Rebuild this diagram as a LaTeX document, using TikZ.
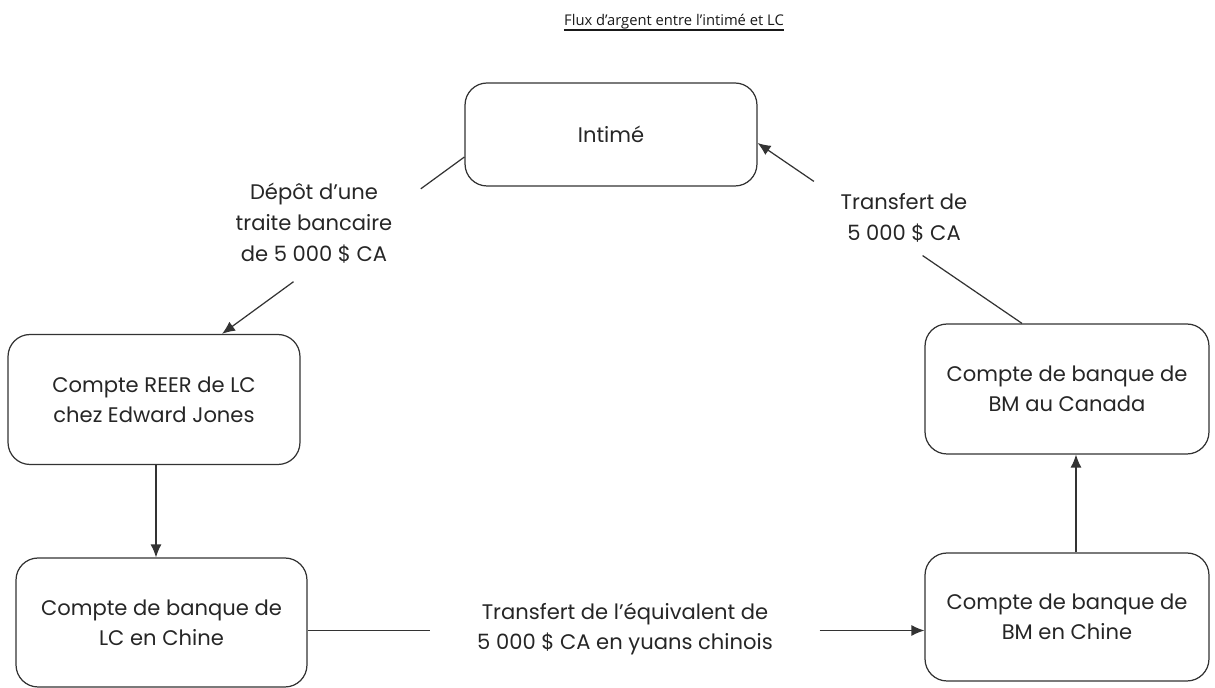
\documentclass[tikz,border=0pt]{standalone}
\usepackage{fontspec}
\setmainfont{Poppins}
\newfontfamily\titlefont{Open Sans}
\usetikzlibrary{arrows.meta, positioning}

\begin{document}
\begin{tikzpicture}[
  x=0.02cm, y=-0.02cm,
  box/.style={draw=black!80, line width=0.7pt, rounded corners=4.4mm, align=center,
    inner sep=0pt, text=black!85, font=\fontsize{12}{17}\selectfont},
  lbl/.style={align=center, text=black!85, font=\fontsize{12}{17.5}\selectfont},
  flow/.style={draw=black!80, line width=0.7pt},
  edge/.style={flow, -{Latex[length=2.6mm, width=2.2mm]}}
]
\useasboundingbox (0,0) rectangle (1215,688);

\node[anchor=base, inner sep=0pt, text=black!90, font=\titlefont\fontsize{8.4}{10}\selectfont] (title) at (674,26)
  {Flux d’argent entre l’intimé et LC};
\draw[line width=0.85pt, black!90] ([yshift=-0.08cm]title.base west) -- ([yshift=-0.08cm]title.base east);

\node[box, minimum width=5.84cm, minimum height=2.06cm] (intime) at (611,134.5) {Intimé};
\node[box, minimum width=5.84cm, minimum height=2.6cm] (reer) at (154,399.5)
  {Compte REER de LC\\chez Edward Jones};
\node[box, minimum width=5.82cm, minimum height=2.58cm] (lcchine) at (161.5,622.5)
  {Compte de banque de\\LC en Chine};
\node[box, minimum width=5.68cm, minimum height=2.56cm] (bmchine) at (1067,617)
  {Compte de banque de\\BM en Chine};
\node[box, minimum width=5.68cm, minimum height=2.6cm] (bmcanada) at (1067,389)
  {Compte de banque de\\BM au Canada};

\node[lbl] (depot) at (314,223) {Dépôt d’une\\traite bancaire\\de 5 000 \$ CA};
\node[lbl] (transfert) at (904,217.5) {Transfert de\\5 000 \$ CA};
\node[lbl] (yuans) at (625,629) {Transfert de l’équivalent de\\5 000 \$ CA en yuans chinois};

% depot de la traite
\coordinate (depot-a) at ([yshift=-0.45cm]intime.west);
\coordinate (depot-b) at ([xshift=1.36cm]reer.north);
\path (depot-a) -- (depot-b) coordinate[pos=0.18] (depot-1) coordinate[pos=0.705] (depot-2);
\draw[flow] (depot-a) -- (depot-1);
\draw[edge] (depot-2) -- (depot-b);

% REER vers la Chine
\draw[edge] ([xshift=0.04cm]reer.south) -- ([xshift=0.04cm]reer.south |- lcchine.north);

% equivalent en yuans
\coordinate (yuans-a) at ([yshift=-0.16cm]lcchine.east);
\coordinate (yuans-b) at (yuans-a -| bmchine.west);
\path (yuans-a) -- (yuans-b) coordinate[pos=0.199] (yuans-1) coordinate[pos=0.83] (yuans-2);
\draw[flow] (yuans-a) -- (yuans-1);
\draw[edge] (yuans-2) -- (yuans-b);

% Chine vers Canada
\draw[edge] ([xshift=0.18cm]bmchine.north) -- ([xshift=0.18cm]bmcanada.south);

% retour vers l'intime
\coordinate (retour-a) at ([xshift=-0.9cm]bmcanada.north);
\coordinate (retour-b) at ([yshift=-0.17cm]intime.east);
\path (retour-a) -- (retour-b) coordinate[pos=0.376] (retour-1) coordinate[pos=0.787] (retour-2);
\draw[flow] (retour-a) -- (retour-1);
\draw[edge] (retour-2) -- (retour-b);
\end{tikzpicture}
\end{document}
